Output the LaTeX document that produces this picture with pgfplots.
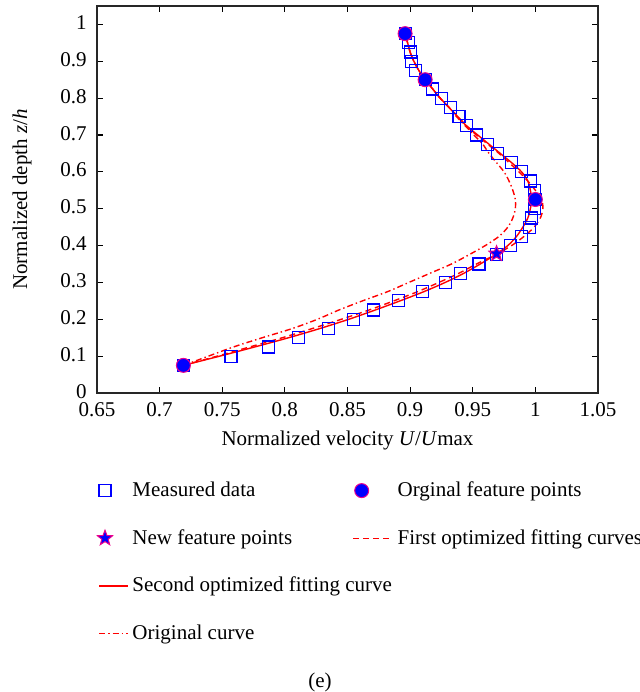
\documentclass[border=0pt]{standalone}
\usepackage{fontspec}
\setmainfont{Liberation Serif}
\usepackage{pgfplots}
\pgfplotsset{compat=1.18}
\pgfplotsset{
  legmarkS/.style={legend image code/.code={\draw[##1] plot coordinates {(0.1cm,0cm)}; \path (0cm,0cm) (0.45cm,0cm);}},
  legmarkL/.style={legend image code/.code={\draw[##1] plot coordinates {(0.15cm,0cm)}; \path (0cm,0cm) (0.7cm,0cm);}},
  leglineS/.style={legend image code/.code={\draw[##1] (0cm,0cm) -- (0.5cm,0cm);}},
  leglineL/.style={legend image code/.code={\draw[##1] (0cm,0cm) -- (0.7cm,0cm);}},
}
\pgfdeclareplotmark{fstar}{%
  \pgfpathmoveto{\pgfpointpolar{90}{\pgfplotmarksize}}%
  \pgfpathlineto{\pgfpointpolar{126}{0.42\pgfplotmarksize}}%
  \pgfpathlineto{\pgfpointpolar{162}{\pgfplotmarksize}}%
  \pgfpathlineto{\pgfpointpolar{198}{0.42\pgfplotmarksize}}%
  \pgfpathlineto{\pgfpointpolar{234}{\pgfplotmarksize}}%
  \pgfpathlineto{\pgfpointpolar{270}{0.42\pgfplotmarksize}}%
  \pgfpathlineto{\pgfpointpolar{306}{\pgfplotmarksize}}%
  \pgfpathlineto{\pgfpointpolar{342}{0.42\pgfplotmarksize}}%
  \pgfpathlineto{\pgfpointpolar{18}{\pgfplotmarksize}}%
  \pgfpathlineto{\pgfpointpolar{54}{0.42\pgfplotmarksize}}%
  \pgfpathclose
  \pgfusepathqfillstroke
}
\pgfplotstableread{
v z
0.719 0.075
0.757 0.100
0.787 0.125
0.811 0.150
0.835 0.175
0.855 0.200
0.871 0.225
0.891 0.250
0.910 0.275
0.928 0.300
0.940 0.325
0.955 0.350
0.969 0.375
0.980 0.400
0.989 0.425
0.995 0.450
0.997 0.475
0.999 0.500
1.000 0.525
0.999 0.550
0.996 0.575
0.989 0.600
0.981 0.625
0.970 0.650
0.962 0.675
0.953 0.700
0.945 0.725
0.939 0.750
0.932 0.775
0.925 0.800
0.918 0.825
0.912 0.850
0.904 0.875
0.901 0.900
0.900 0.925
0.899 0.950
0.896 0.975
}\measured
\pgfplotstableread{
v z
0.719 0.075
0.748 0.100
0.776 0.125
0.803 0.150
0.828 0.175
0.851 0.200
0.872 0.225
0.892 0.250
0.911 0.275
0.928 0.300
0.943 0.325
0.956 0.350
0.968 0.375
0.978 0.400
0.985 0.425
0.990 0.450
0.994 0.475
0.996 0.500
0.997 0.525
0.996 0.550
0.994 0.575
0.989 0.600
0.981 0.625
0.972 0.650
0.963 0.675
0.954 0.700
0.945 0.725
0.938 0.750
0.931 0.775
0.924 0.800
0.918 0.825
0.912 0.850
0.907 0.875
0.903 0.900
0.900 0.925
0.898 0.950
0.896 0.975
}\second
\pgfplotstableread{
v z
0.719 0.075
0.746 0.100
0.772 0.125
0.798 0.150
0.822 0.175
0.845 0.200
0.867 0.225
0.887 0.250
0.906 0.275
0.923 0.300
0.939 0.325
0.953 0.350
0.968 0.375
0.981 0.400
0.991 0.425
0.999 0.450
1.004 0.475
1.006 0.500
1.005 0.525
1.000 0.550
0.994 0.575
0.987 0.600
0.979 0.625
0.971 0.650
0.962 0.675
0.953 0.700
0.945 0.725
0.938 0.750
0.931 0.775
0.924 0.800
0.918 0.825
0.912 0.850
0.907 0.875
0.903 0.900
0.900 0.925
0.898 0.950
0.896 0.975
}\first
\pgfplotstableread{
v z
0.719 0.075
0.739 0.100
0.759 0.125
0.782 0.150
0.806 0.175
0.826 0.200
0.843 0.225
0.862 0.250
0.882 0.275
0.899 0.300
0.916 0.325
0.933 0.350
0.947 0.375
0.960 0.400
0.971 0.425
0.978 0.450
0.982 0.475
0.984 0.500
0.984 0.525
0.982 0.550
0.979 0.575
0.975 0.600
0.969 0.625
0.963 0.650
0.958 0.675
0.951 0.700
0.944 0.725
0.937 0.750
0.931 0.775
0.924 0.800
0.918 0.825
0.912 0.850
0.907 0.875
0.903 0.900
0.900 0.925
0.898 0.950
0.896 0.975
}\original
\pgfplotstableread{
v z
0.719 0.075
0.912 0.850
0.896 0.975
1.000 0.525
}\origfeat
\pgfplotstableread{
v z
0.969 0.378
}\newfeat
\begin{document}
\fontsize{10.5}{12.6}\selectfont
\begin{tikzpicture}
\begin{axis}[
  scale only axis, width=250.5pt, height=193.5pt,
  xmin=0.65, xmax=1.05, ymin=0, ymax=1.05,
  xtick={0.65,0.7,0.75,0.8,0.85,0.9,0.95,1,1.05},
  ytick={0,0.1,0.2,0.3,0.4,0.5,0.6,0.7,0.8,0.9,1},
  tick align=inside, major tick length=3pt,
  tick style={black, line width=0.6pt},
  axis line style={black!85, line width=0.8pt},
  /pgf/number format/assume math mode=true,
  yticklabel style={xshift=-1.5pt, yshift=0.9pt},
  xticklabel style={yshift=-1pt},
  xlabel={Normalized velocity \textit{U}/\textit{U}max},
  ylabel={Normalized depth \textit{z}/\textit{h}},
  label style={font=\fontsize{10.8}{13}\selectfont},
  every axis x label/.style={at={(axis description cs:0.5,-0.1214)}, anchor=center},
  every axis y label/.style={at={(axis description cs:-0.1497,0.5)}, rotate=90, anchor=center},
  legend columns=2,
  legend cell align=left,
  legend style={at={(axis description cs:0,-0.215)}, anchor=north west,
    draw=none, fill=none, inner sep=0pt, row sep=9.8pt,
    nodes={text height=8pt, text depth=2pt, inner sep=2pt}},
]
\addlegendimage{only marks, mark=square, mark size=3pt, blue, line width=0.6pt, legmarkS}
\addlegendentry{\makebox[108pt][l]{Measured data}}
\addlegendimage{only marks, mark=*, mark size=3.5pt, draw=magenta, fill=blue, line width=0.5pt, legmarkL}
\addlegendentry{Orginal feature points}
\addlegendimage{only marks, mark=fstar, mark size=4pt, draw=magenta, fill=blue, line width=0.5pt, legmarkS}
\addlegendentry{\makebox[108pt][l]{New feature points}}
\addlegendimage{red, line width=0.7pt, dash pattern=on 3pt off 2pt, leglineL}
\addlegendentry{First optimized fitting curves}
\addlegendimage{red, line width=0.7pt, leglineS}
\addlegendentry{\makebox[108pt][l]{Second optimized fitting curve}}
\addlegendimage{empty legend}
\addlegendentry{}
\addlegendimage{red, line width=0.7pt, dash pattern=on 3pt off 1.5pt on 0.7pt off 1.5pt, leglineS}
\addlegendentry{Original curve}

\addplot[forget plot, only marks, mark=square, mark size=3pt, blue, line width=0.6pt] table[x=v,y=z] {\measured};
\addplot[forget plot, red, line width=0.7pt, dash pattern=on 3pt off 1.5pt on 0.7pt off 1.5pt, smooth] table[x=v,y=z] {\original};
\addplot[forget plot, red, line width=0.7pt, dash pattern=on 3pt off 2pt, smooth] table[x=v,y=z] {\first};
\addplot[forget plot, red, line width=0.7pt, smooth] table[x=v,y=z] {\second};
\addplot[forget plot, only marks, mark=*, mark size=3.5pt, draw=magenta, fill=blue, line width=0.5pt] table[x=v,y=z] {\origfeat};
\addplot[forget plot, only marks, mark=fstar, mark size=4pt, draw=magenta, fill=blue, line width=0.5pt] table[x=v,y=z] {\newfeat};
\coordinate (ll) at (rel axis cs:0,0);
\coordinate (ur) at (rel axis cs:1,1);
\end{axis}
\node at ([shift={(111.5pt,-144.5pt)}]ll) {(e)};
\pgfresetboundingbox
\path ([shift={(-48.5pt,-149.5pt)}]ll) rectangle ([shift={(21pt,3pt)}]ur);
\end{tikzpicture}
\end{document}
